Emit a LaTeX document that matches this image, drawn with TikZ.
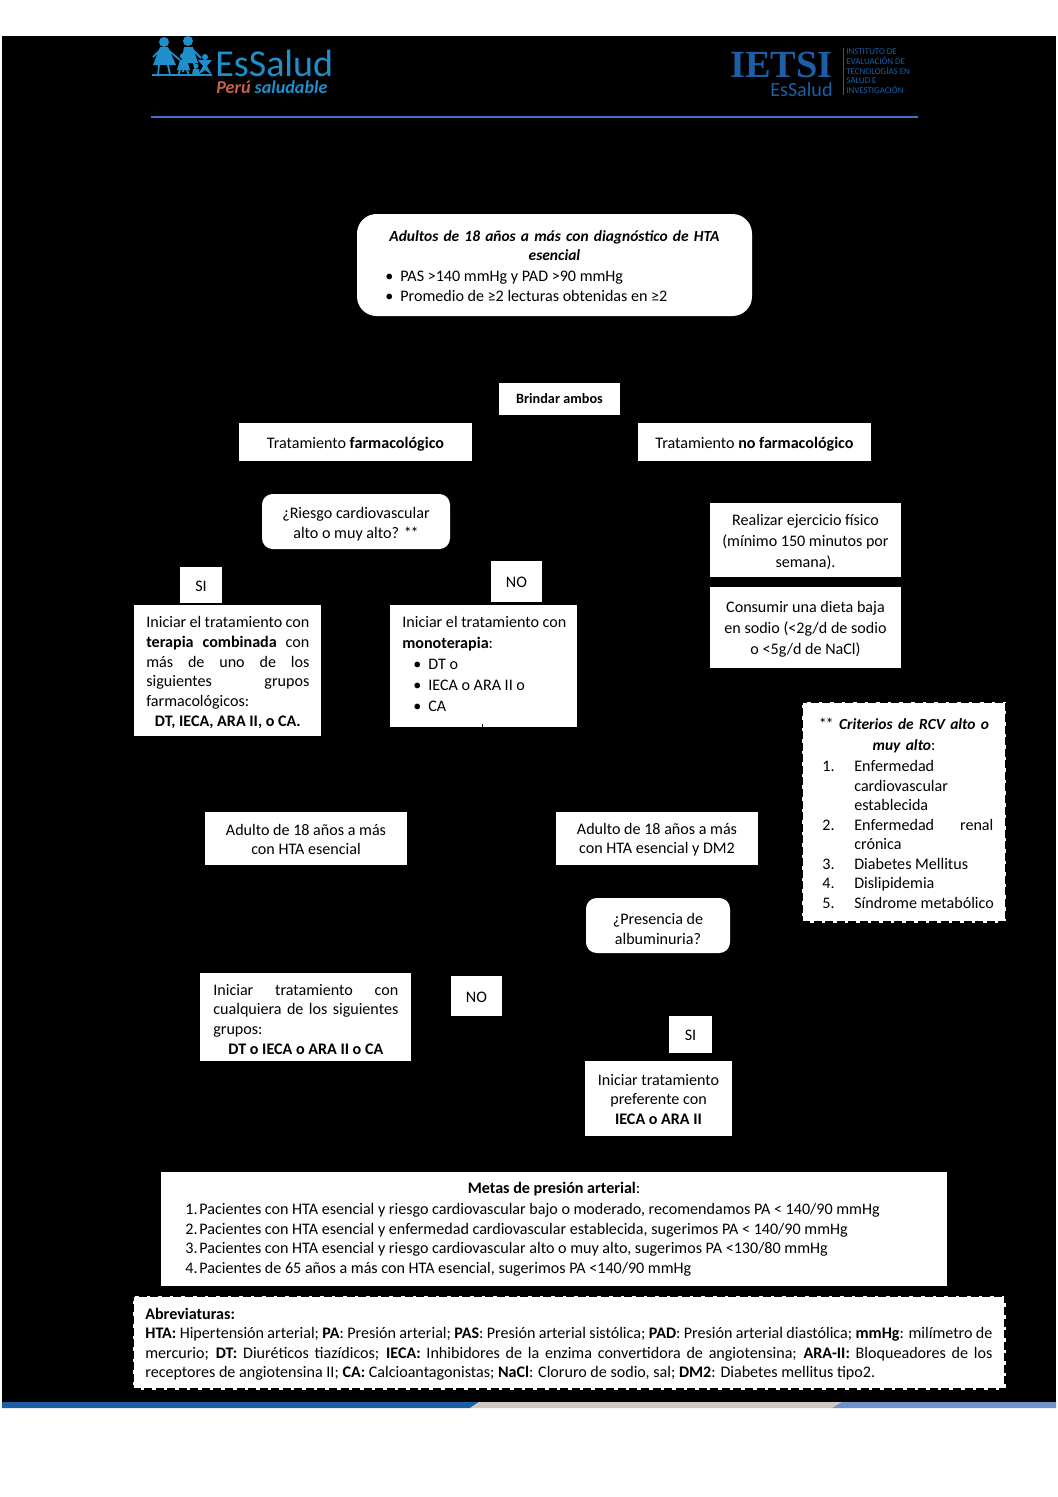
\documentclass[tikz,border=0pt]{standalone}
\usepackage{fontspec}
\setmainfont{Carlito}
\newfontfamily\serifb{Liberation Serif}
\usetikzlibrary{positioning}
\definecolor{essalud}{HTML}{1E8FCB}
\definecolor{ietsi}{HTML}{1B5FA6}
\definecolor{barra_gris}{HTML}{CFC8C0}
\definecolor{barra_clara}{HTML}{6F93C9}
\definecolor{linea}{HTML}{4472C4}
\definecolor{peru}{HTML}{C8604A}
\newlength{\pxu}
\setlength{\pxu}{0.5625pt}
\newcommand{\bl}[1]{\makebox[\linewidth][s]{#1}}
\newcommand{\fs}[1]{\fontsize{9.05}{#1}\selectfont}
\newcommand{\stars}{*\kern-.7pt*}
\begin{document}
\begin{tikzpicture}[x=0.5625pt,y=-0.5625pt,
	plain_box/.style={rectangle,fill=white,inner sep=0pt,align=left,font=\fs{11}},
	box_node/.style={plain_box,execute at begin node={\rule{0pt}{9pt}},execute at end node={\rule[-2pt]{0pt}{0pt}}},
	round_node/.style={plain_box,rounded corners=6pt},
	dash_node/.style={plain_box,draw=black,line width=1.2pt,dash pattern=on 4.5pt off 2pt},
	text_node/.style={inner sep=0pt,align=left,font=\fs{11}},
	logo_text/.style={inner sep=0pt,anchor=base west}]
	\useasboundingbox (0,0) rectangle (1058,1497);
	\fill[white] (0,0) rectangle (1058,1497);
	\fill[black] (2,36) rectangle (1056,1402);
	% barra inferior
	\fill[ietsi] (2,1402) -- (479,1402) -- (470,1408) -- (2,1408) -- cycle;
	\fill[barra_gris] (479,1402) -- (842,1402) -- (832,1408) -- (470,1408) -- cycle;
	\fill[barra_clara] (842,1402) -- (1056,1402) -- (1056,1408) -- (832,1408) -- cycle;
	% cabecera
	\fill[essalud] (164,42) circle (5) (188,41) circle (5) (183,56) circle (3) (205,57) circle (3) (196,66) circle (2.5);
	\fill[essalud] (160,47) -- (168,47) -- (176,65) -- (153,65) -- cycle;
	\fill[essalud] (184,47) -- (193,47) -- (198,63) -- (181,63) -- cycle;
	\fill[essalud] (180,60) -- (187,60) -- (190,70) -- (177,70) -- cycle;
	\fill[essalud] (198,60) -- (212,60) -- (207,66) -- (212,75) -- (205,70) -- (198,75) -- (203,66) -- cycle;
	\fill[essalud] (193,69) -- (199,69) -- (200,75) -- (192,75) -- cycle;
	\draw[essalud,line width=1pt] (159,65) -- (158,75) (168,65) -- (170,75) (185,63) -- (183,72) (194,63) -- (196,72) (180,70) -- (178,75) (187,70) -- (189,75) (168,50) -- (180,60) (160,50) -- (153,57) (193,50) -- (201,58) (152,75) -- (212,75);
	\node[logo_text,text=essalud,font=\fontsize{21.4}{22}\selectfont] (logo_essalud) at (215,76) {EsSalud};
	\node[logo_text,font=\fontsize{10.2}{11}\selectfont\bfseries\itshape] (logo_peru) at (216,93) {\textcolor{peru}{Perú} \textcolor{essalud}{saludable}};
	\node[logo_text,text=ietsi,font=\serifb\fontsize{21.6}{22}\selectfont\bfseries] (logo_ietsi) at (730,77) {IETSI};
	\node[logo_text,text=ietsi,font=\fontsize{11.3}{12}\selectfont] (logo_essalud2) at (770,96) {EsSalud};
	\draw[ietsi,line width=0.4pt] (843,48) -- (843,95);
	\node[logo_text,anchor=north west,text=ietsi,font=\fontsize{5}{5.6}\selectfont,align=left] (logo_inst) at (846,48) {INSTITUTO DE\\EVALUACIÓN DE\\TECNOLOGÍAS EN\\SALUD E\\INVESTIGACIÓN};
	\draw[linea,line width=1pt] (151,117) -- (918,117);
	
	% inicio
	\node[plain_box,rounded corners=11pt,minimum width=395*\pxu,minimum height=102*\pxu] (inicio) at (554.5,265) {};
	\node[text_node,text width=360*\pxu,align=center,font=\fontsize{8.7}{11}\selectfont\bfseries\itshape] (inicio_t) at (554.5,245.5) {Adultos de 18 años a más con diagnóstico de HTA\\esencial};
	\node[text_node,anchor=north west,font=\fs{11.3}] (inicio_b) at (385,271) {\makebox[15\pxu][l]{\textbullet}PAS >140 mmHg y PAD >90 mmHg\\\makebox[15\pxu][l]{\textbullet}Promedio de ≥2 lecturas obtenidas en ≥2};
	
	\node[plain_box,align=center,font=\fontsize{8}{9}\selectfont\bfseries,minimum width=121*\pxu,minimum height=32*\pxu] (ambos) at (559.5,399) {Brindar ambos};
	\node[box_node,minimum width=233*\pxu,minimum height=38*\pxu] (farma) at (355.5,442) {Tratamiento \textbf{farmacológico}};
	\node[box_node,minimum width=233*\pxu,minimum height=38*\pxu] (nofarma) at (754.5,442) {Tratamiento \textbf{no farmacológico}};
	
	\node[round_node,minimum width=188*\pxu,minimum height=55*\pxu] (riesgo) at (356,521.5) {};
	\node[text_node,align=center,font=\fs{11.2}] (riesgo_t) at (356,524) {¿Riesgo cardiovascular\\alto o muy alto? \stars};
	\node[plain_box,minimum width=191*\pxu,minimum height=74*\pxu] (ejercicio) at (805.5,540) {};
	\node[text_node,align=center,font=\fs{11.8}] (ejercicio_t) at (805.5,542) {Realizar ejercicio físico\\(mínimo 150 minutos por\\semana).};
	\node[plain_box,minimum width=191*\pxu,minimum height=81*\pxu] (dieta) at (805.5,627.5) {};
	\node[text_node,align=center,font=\fs{11.8}] (dieta_t) at (805.5,629) {Consumir una dieta baja\\en sodio (<2g/d de sodio\\o <5g/d de NaCl)};
	
	\node[box_node,align=center,minimum width=42*\pxu,minimum height=36*\pxu] (si_1) at (201,585) {SI};
	\node[box_node,align=center,minimum width=51*\pxu,minimum height=41*\pxu] (no_1) at (516.5,581.5) {NO};
	
	\node[plain_box,minimum width=187*\pxu,minimum height=131*\pxu] (combinada) at (227.5,670.5) {};
	\node[text_node,anchor=north west,font=\fs{11.1}] (combinada_t) at (146,616) {\begin{minipage}[t]{163\pxu}\bl{Iniciar el tratamiento con}\\\bl{\textbf{terapia combinada} con}\\\bl{más de uno de los}\\\bl{siguientes grupos}\\farmacológicos:\\\centerline{\textbf{DT, IECA, ARA II, o CA.}}\end{minipage}};
	\node[plain_box,minimum width=187*\pxu,minimum height=122*\pxu] (mono) at (483.5,666) {};
	\node[text_node,anchor=north west,font=\fs{11.8}] (mono_t) at (402,616) {Iniciar el tratamiento con\\\textbf{monoterapia}:\\\hspace*{11\pxu}\makebox[15\pxu][l]{\textbullet}DT o\\\hspace*{11\pxu}\makebox[15\pxu][l]{\textbullet}IECA o ARA II o\\\hspace*{11\pxu}\makebox[15\pxu][l]{\textbullet}CA};
	\draw[black] (mono.south) ++(-1.5,-3) -- ++(0,3);
	
	\node[dash_node,minimum width=204*\pxu,minimum height=221*\pxu] (criterios) at (904,812) {};
	\node[text_node,text width=180*\pxu,align=center,font=\fs{11.8}] (criterios_t) at (904,735.5) {\stars{} {\fontsize{8.7}{11}\selectfont\bfseries\itshape Criterios de RCV alto o}\\{\fontsize{8.7}{11}\selectfont\bfseries\itshape muy alto}:};
	\node[text_node,anchor=north west] (criterios_l) at (822,760) {\makebox[32\pxu][l]{1.}Enfermedad\\\hspace*{32\pxu}cardiovascular\\\hspace*{32\pxu}establecida\\\makebox[32\pxu][l]{2.}\makebox[139\pxu][s]{Enfermedad renal}\\\hspace*{32\pxu}crónica\\\makebox[32\pxu][l]{3.}Diabetes Mellitus\\\makebox[32\pxu][l]{4.}Dislipidemia\\\makebox[32\pxu][l]{5.}Síndrome metabólico};
	
	\node[plain_box,minimum width=202*\pxu,minimum height=53*\pxu] (adulto_1) at (306,838.5) {};
	\node[text_node,align=center] (adulto_1t) at (306,839.5) {Adulto de 18 años a más\\con HTA esencial};
	\node[plain_box,minimum width=202*\pxu,minimum height=53*\pxu] (adulto_2) at (657,838.5) {};
	\node[text_node,align=center] (adulto_2t) at (657,839.5) {Adulto de 18 años a más\\con HTA esencial y DM2};
	\node[round_node,minimum width=144*\pxu,minimum height=55*\pxu] (albumina) at (658,925.5) {};
	\node[text_node,align=center,font=\fs{11.2}] (albumina_t) at (658,929) {¿Presencia de\\albuminuria?};
	
	\node[plain_box,minimum width=211*\pxu,minimum height=88*\pxu] (cualquiera) at (305.5,1017) {};
	\node[text_node,anchor=north west] (cualquiera_t) at (213,984) {\begin{minipage}[t]{185\pxu}\bl{Iniciar tratamiento con}\\\bl{cualquiera de los siguientes}\\grupos:\\\centerline{\textbf{DT o IECA o ARA II o CA}}\end{minipage}};
	\node[box_node,align=center,minimum width=51*\pxu,minimum height=40*\pxu] (no_2) at (476.5,996) {NO};
	\node[box_node,align=center,minimum width=43*\pxu,minimum height=37*\pxu] (si_2) at (690.5,1034.5) {SI};
	\node[plain_box,minimum width=147*\pxu,minimum height=75*\pxu] (preferente) at (658.5,1098.5) {};
	\node[text_node,align=center] (preferente_t) at (658.5,1099.5) {Iniciar tratamiento\\preferente con\\\textbf{IECA o ARA II}};
	
	\node[plain_box,minimum width=786*\pxu,minimum height=114*\pxu] (metas) at (554,1229) {};
	\node[text_node] (metas_t) at (554,1189) {\textbf{Metas de presión arterial}:};
	\node[text_node,anchor=north west] (metas_l) at (185,1203) {\makebox[14\pxu][l]{1.}Pacientes con HTA esencial y riesgo cardiovascular bajo o moderado, recomendamos PA < 140/90 mmHg\\\makebox[14\pxu][l]{2.}Pacientes con HTA esencial y enfermedad cardiovascular establecida, sugerimos PA < 140/90 mmHg\\\makebox[14\pxu][l]{3.}Pacientes con HTA esencial y riesgo cardiovascular alto o muy alto, sugerimos PA <130/80 mmHg\\\makebox[14\pxu][l]{4.}Pacientes de 65 años a más con HTA esencial, sugerimos PA <140/90 mmHg};
	
	\node[dash_node,minimum width=873*\pxu,minimum height=94*\pxu] (abrev) at (569,1342.5) {};
	\node[text_node,anchor=north west] (abrev_t) at (145,1307.5) {\begin{minipage}[t]{847\pxu}\textbf{Abreviaturas:}\\\bl{\textbf{HTA:} Hipertensión arterial; \textbf{PA}: Presión arterial; \textbf{PAS}: Presión arterial sistólica; \textbf{PAD}: Presión arterial diastólica; \textbf{mmHg}: milímetro de}\\\bl{mercurio; \textbf{DT:} Diuréticos tiazídicos; \textbf{IECA:} Inhibidores de la enzima convertidora de angiotensina; \textbf{ARA-II:} Bloqueadores de los}\\receptores de angiotensina II; \textbf{CA:} Calcioantagonistas; \textbf{NaCl}: Cloruro de sodio, sal; \textbf{DM2}: Diabetes mellitus tipo2.\end{minipage}};
\end{tikzpicture}
\end{document}
